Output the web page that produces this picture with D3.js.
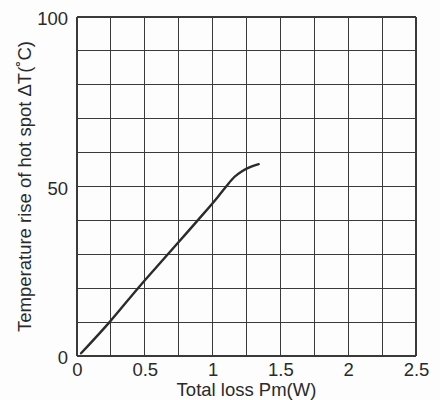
<!DOCTYPE html>
<html>
<head>
<meta charset="utf-8">
<script src="https://cdn.jsdelivr.net/npm/d3@7"></script>
<style>
  html, body { margin: 0; padding: 0; background: #fdfdfd; }
  svg { display: block; }
  text { font-family: "Liberation Sans", Arial, sans-serif; fill: #2a2a2a; }
</style>
</head>
<body>
<svg id="chart" width="440" height="400"></svg>
<script>
// Data
const lossW    = [0.03, 0.24, 0.45, 0.67, 0.89, 1.04, 1.10, 1.16, 1.22, 1.28, 1.34];
const tempRise = [0.8,  10,   20,   30,   40,   47,   50,   52.8, 54.6, 55.8, 56.6];

const xTickLabels = [0, 0.5, 1, 1.5, 2, 2.5];
const yTickLabels = [0, 50, 100];
const xGridValues = [0, 0.25, 0.5, 0.75, 1, 1.25, 1.5, 1.75, 2, 2.25, 2.5];
const yGridValues = [0, 10, 20, 30, 40, 50, 60, 70, 80, 90, 100];

const xTitle = "Total loss Pm(W)";
const yTitle = "Temperature rise of hot spot \u0394T(\u02daC)";

const W = 440, H = 400;
const margin = { left: 77, top: 17, right: 24, bottom: 44 };
const iw = W - margin.left - margin.right;
const ih = H - margin.top - margin.bottom;

const svg = d3.select("#chart");
const g = svg.append("g").attr("transform", `translate(${margin.left},${margin.top})`);

const x = d3.scaleLinear().domain([0, 2.5]).range([0, iw]);
const y = d3.scaleLinear().domain([0, 100]).range([ih, 0]);

const gridColor = "#3a3a3a";

// Grid
g.append("g").selectAll("line.v").data(xGridValues).join("line")
  .attr("x1", d => x(d)).attr("x2", d => x(d))
  .attr("y1", 0).attr("y2", ih)
  .attr("stroke", gridColor).attr("stroke-width", 1.1).attr("shape-rendering", "crispEdges");
g.append("g").selectAll("line.h").data(yGridValues).join("line")
  .attr("x1", 0).attr("x2", iw)
  .attr("y1", d => y(d)).attr("y2", d => y(d))
  .attr("stroke", gridColor).attr("stroke-width", 1.1).attr("shape-rendering", "crispEdges");

// Axes (labels only)
const xAxis = d3.axisBottom(x).tickValues(xTickLabels).tickSize(0).tickPadding(0)
  .tickFormat(d => String(d));
const xg = g.append("g").attr("transform", `translate(0,${ih})`).call(xAxis);
xg.select(".domain").remove();
xg.selectAll("text").attr("font-size", 18.5).attr("dy", null).attr("y", 20)
  .style("font-family", "'Liberation Sans', Arial, sans-serif").attr("fill", "#2a2a2a");

const yAxis = d3.axisLeft(y).tickValues(yTickLabels).tickSize(0).tickPadding(9)
  .tickFormat(d => String(d));
const yg = g.append("g").call(yAxis);
yg.select(".domain").remove();
yg.selectAll("text").attr("font-size", 18.5).attr("dy", "0.42em")
  .style("font-family", "'Liberation Sans', Arial, sans-serif").attr("fill", "#2a2a2a");

// Curve
const pts = lossW.map((v, i) => [v, tempRise[i]]);
const line = d3.line().x(d => x(d[0])).y(d => y(d[1])).curve(d3.curveMonotoneX);
g.append("path").datum(pts)
  .attr("d", line)
  .attr("fill", "none")
  .attr("stroke", "#2b2b2b")
  .attr("stroke-width", 2.4)
  .attr("stroke-linecap", "round");

// Titles
svg.append("text")
  .attr("x", margin.left + iw / 2).attr("y", 396)
  .attr("text-anchor", "middle").attr("font-size", 18.5)
  .text(xTitle);

svg.append("text")
  .attr("transform", `translate(31,${margin.top + ih / 2}) rotate(-90)`)
  .attr("text-anchor", "middle").attr("font-size", 18.5)
  .text(yTitle);
</script>
</body>
</html>
